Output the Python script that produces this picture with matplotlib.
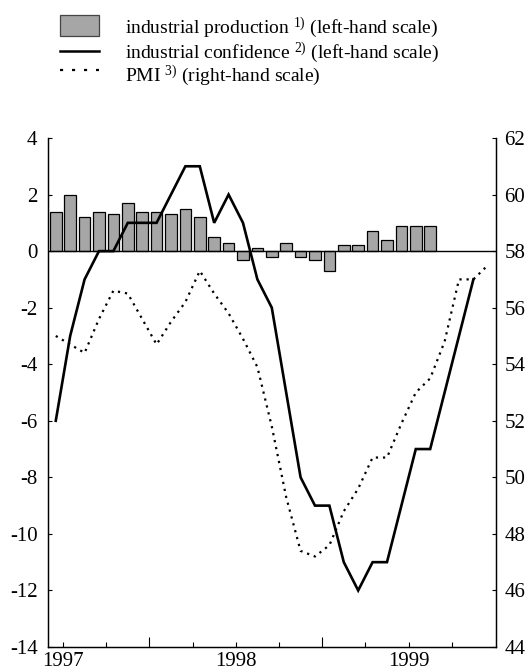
import numpy as np
import matplotlib
matplotlib.use("Agg")
import matplotlib.pyplot as plt
from matplotlib.patches import Rectangle
from matplotlib.lines import Line2D

plt.rcParams["font.family"] = ["Liberation Serif", "DejaVu Serif"]
plt.rcParams["mathtext.fontset"] = "custom"
plt.rcParams["mathtext.rm"] = "Liberation Serif"
plt.rcParams["mathtext.it"] = "Liberation Serif"
plt.rcParams["axes.unicode_minus"] = False

# monthly data, first point = Dec 1996
production = [1.4, 2.0, 1.2, 1.4, 1.3, 1.7, 1.4, 1.4, 1.3, 1.5, 1.2, 0.5, 0.3,
              -0.3, 0.1, -0.2, 0.3, -0.2, -0.3, -0.7, 0.2, 0.2, 0.7, 0.4,
              0.9, 0.9, 0.9]
confidence = [-6, -3, -1, 0, 0, 1, 1, 1, 2, 3, 3, 1, 2, 1, -1, -2, -5, -8,
              -9, -9, -11, -12, -11, -11, -9, -7, -7, -5, -3, -1]
pmi = [55.0, 54.7, 54.4, 55.6, 56.6, 56.5, 55.6, 54.7, 55.5, 56.2, 57.3,
       56.5, 55.8, 54.9, 53.9, 51.8, 49.3, 47.4, 47.2, 47.6, 48.8, 49.6,
       50.7, 50.7, 51.9, 53.0, 53.5, 54.8, 57.0, 57.0, 57.5]

years = ["1997", "1998", "1999"]

# x in months from Jan 1997, points at mid-month
def xpos(n):
    return np.arange(n) - 0.5

BAR_C = "#a6a6a6"
FS = 15

fig = plt.figure(figsize=(5.28, 6.71), dpi=100)
ax = fig.add_axes([48 / 528, 24 / 671, 448 / 528, 509 / 671])
ax2 = ax.twinx()

ax.bar(xpos(len(production)), production, width=0.8, color=BAR_C,
       edgecolor="black", linewidth=0.9, zorder=2)
ax.axhline(0, color="black", lw=1.0, zorder=3)
ax.plot(xpos(len(confidence)), confidence, color="black", lw=1.9,
        solid_joinstyle="miter", zorder=4)
ax2.plot(xpos(len(pmi)), pmi, color="black", lw=1.6,
         linestyle=(0, (1, 2.2)), zorder=4)

ax.set_xlim(-1.04, 30.07)
ax.set_ylim(-14, 4)
ax2.set_ylim(44, 62)
ax.set_yticks(np.arange(-14, 5, 2))
ax2.set_yticks(np.arange(44, 63, 2))

# quarterly ticks, longer at mid-year, year labels under January
ax.set_xticks([6, 18], ["", ""])
qt = [0, 3, 9, 12, 15, 21, 24, 27]
ax.set_xticks(qt, [years[0], "", "", years[1], "", "", years[2], ""],
              minor=True)
ax.tick_params(axis="x", which="major", direction="in", length=7.5, width=0.8)
ax.tick_params(axis="x", which="minor", direction="in", length=3.8, width=0.8,
               labelsize=FS, pad=3.5)
ax.tick_params(axis="y", direction="in", length=3, width=0.8, labelsize=FS,
               pad=7.5)
ax2.tick_params(axis="y", direction="in", length=3, width=0.8, labelsize=FS,
                pad=6)

for a in (ax, ax2):
    for sp in a.spines.values():
        sp.set_linewidth(0.9)
    a.spines["top"].set_visible(False)

# legend drawn by hand at the top
fig.patches.append(Rectangle((60 / 528, 1 - 36 / 671), 39 / 528, 21 / 671,
                             transform=fig.transFigure, facecolor=BAR_C,
                             edgecolor="#444444", lw=0.9))
fig.lines.append(Line2D([60 / 528, 99 / 528], [1 - 51 / 671] * 2,
                        transform=fig.transFigure, color="black", lw=1.8))
fig.lines.append(Line2D([60 / 528, 99 / 528], [1 - 70 / 671] * 2,
                        transform=fig.transFigure, color="black", lw=1.6,
                        linestyle=(0, (1.4, 4.0))))
labels = [r"industrial production $^{1)}$ (left-hand scale)",
          r"industrial confidence $^{2)}$ (left-hand scale)",
          r"PMI $^{3)}$ (right-hand scale)"]
for lab, yy in zip(labels, [25, 49.5, 73]):
    fig.text(125 / 528, 1 - yy / 671, lab, fontsize=14,
             va="center_baseline", ha="left")

fig.savefig("out.png", dpi=100)
